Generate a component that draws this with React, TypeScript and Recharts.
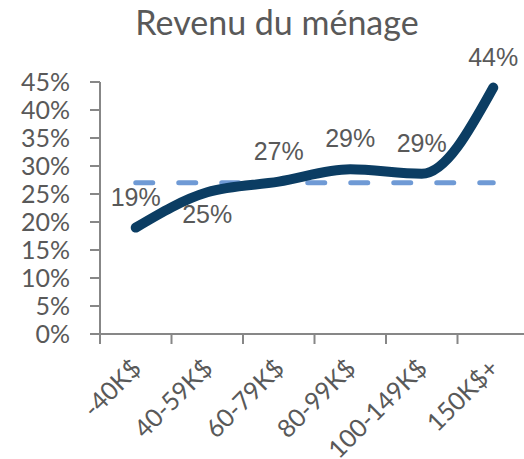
import { LineChart, Line, XAxis, YAxis } from 'recharts';

const CATEGORIES = ['-40K$', '40-59K$', '60-79K$', '80-99K$', '100-149K$', '150K$+'];
const SHARE = [19, 25.3, 27.2, 29.4, 28.6, 44];
const AVERAGE = 27;
const Y_TICKS = [0, 5, 10, 15, 20, 25, 30, 35, 40, 45];
// integer positions get a tick mark (category edges), halves get the label
const X_TICKS = [0, 0.5, 1, 1.5, 2, 2.5, 3, 3.5, 4, 4.5, 5, 5.5, 6];

const data = CATEGORIES.map((c, i) => ({
  x: i + 0.5,
  name: c,
  share: SHARE[i],
  avg: AVERAGE,
}));

const TEXT = '#595959';
const AXIS = '#878787';
const NAVY = '#0b3d63';
const DASH = '#6f9ad5';

function XTick({ x, y, payload }: { x?: number; y?: number; payload?: { value: number } }) {
  if (x == null || y == null || !payload) return null;
  const v = payload.value;
  if (Number.isInteger(v)) {
    return <line x1={x} x2={x} y1={y} y2={y + 10} stroke={AXIS} strokeWidth={2} />;
  }
  return (
    <g transform={`translate(${x + 7},${y + 36})`}>
      <text
        x={0}
        y={0}
        textAnchor="end"
        transform="rotate(-45)"
        fill={TEXT}
        style={{ fontFamily: 'Lato', fontSize: 25 }}
      >
        {CATEGORIES[Math.floor(v)]}
      </text>
    </g>
  );
}

function renderLabel(props: any) {
  const { x, y, value, index } = props;
  const dy = index === 1 ? 22 : -31;
  return (
    <text
      key={index}
      x={x}
      y={y + dy}
      textAnchor="middle"
      dominantBaseline="central"
      fill={TEXT}
      style={{ fontFamily: 'Liberation Sans', fontSize: 25 }}
    >
      {Math.round(value)}%
    </text>
  );
}

export default function App() {
  return (
    <div
      style={{
        position: 'absolute',
        left: 0,
        top: 0,
        width: 524,
        height: 459,
        overflow: 'hidden',
        background: '#fff',
      }}
    >
      <div
        style={{
          position: 'absolute',
          left: 0,
          top: 5,
          width: 554,
          textAlign: 'center',
          fontFamily: 'Lato',
          fontSize: 34,
          lineHeight: '34px',
          color: TEXT,
          whiteSpace: 'nowrap',
        }}
      >
        Revenu du ménage
      </div>
      <LineChart width={530} height={459} data={data} margin={{ top: 82, right: 1, bottom: 0, left: 0 }}>
        <XAxis
          dataKey="x"
          type="number"
          domain={[0, 6]}
          ticks={X_TICKS}
          interval={0}
          tickLine={false}
          tickSize={0}
          tickMargin={0}
          height={125}
          axisLine={{ stroke: AXIS, strokeWidth: 2 }}
          tick={<XTick />}
        />
        <YAxis
          type="number"
          domain={[0, 45]}
          ticks={Y_TICKS}
          interval={0}
          width={100}
          tickSize={10}
          tickMargin={20}
          tickFormatter={(v: number) => `${v}%`}
          axisLine={{ stroke: AXIS, strokeWidth: 2 }}
          tickLine={{ stroke: AXIS, strokeWidth: 2 }}
          tick={{ fill: TEXT, fontFamily: 'Lato', fontSize: 25 }}
        />
        <Line
          dataKey="avg"
          type="linear"
          stroke={DASH}
          strokeWidth={5}
          strokeDasharray="17 26"
          strokeLinecap="round"
          dot={false}
          activeDot={false}
          isAnimationActive={false}
        />
        <Line
          dataKey="share"
          type="monotone"
          stroke={NAVY}
          strokeWidth={10}
          strokeLinecap="round"
          dot={false}
          activeDot={false}
          label={renderLabel}
          isAnimationActive={false}
        />
      </LineChart>
    </div>
  );
}
